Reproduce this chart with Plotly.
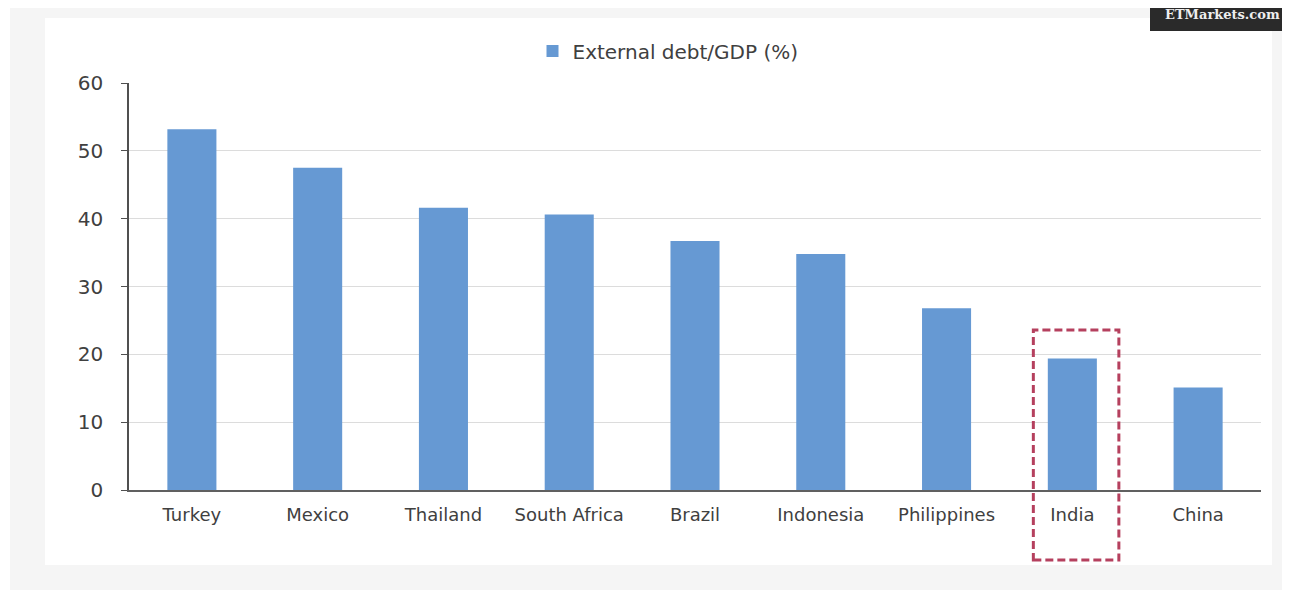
import plotly.graph_objects as go

categories = ["Turkey", "Mexico", "Thailand", "South Africa", "Brazil",
              "Indonesia", "Philippines", "India", "China"]
debt_gdp = [53.2, 47.5, 41.6, 40.6, 36.7, 34.8, 26.8, 19.4, 15.1]
y_ticks = [0, 10, 20, 30, 40, 50, 60]
series_name = "External debt/GDP (%)"

OFF = 8  # page body margin
W, H = 1290 - OFF, 595 - OFF
L, T = 129 - OFF, 83 - OFF
pw, ph = 1132, 407
R = W - L - pw
B = H - T - ph

def px2x(px):
    return (px - OFF - L) / pw

def px2y(py):
    return (T + ph - (py - OFF)) / ph

fig = go.Figure()
fig.add_trace(go.Bar(
    x=categories, y=debt_gdp, name=series_name,
    marker=dict(color="#6699d3", line=dict(width=0)),
    showlegend=True,
))

shapes = [
    dict(type="rect", xref="paper", yref="paper",
         x0=px2x(10), x1=px2x(1300), y0=px2y(590), y1=px2y(-10),
         fillcolor="#f5f5f5", line=dict(width=0), layer="below"),
    dict(type="rect", xref="paper", yref="paper",
         x0=px2x(45), x1=px2x(1272), y0=px2y(565), y1=px2y(18),
         fillcolor="#ffffff", line=dict(width=0), layer="below"),
    dict(type="rect", xref="paper", yref="paper",
         x0=px2x(1150), x1=px2x(1300), y0=px2y(31), y1=px2y(-10),
         fillcolor="#2a2a2a", line=dict(width=0), layer="above"),
    dict(type="rect", xref="x", yref="paper",
         x0=6.69, x1=7.37, y0=px2y(560), y1=px2y(330),
         fillcolor="rgba(0,0,0,0)",
         line=dict(color="#b5405e", width=3, dash="8px,4px"), layer="above"),
]

fig.update_layout(
    width=W, height=H,
    margin=dict(l=L, r=R, t=T, b=B, pad=0),
    paper_bgcolor="#ffffff",
    plot_bgcolor="rgba(0,0,0,0)",
    bargap=0.61,
    font=dict(family="DejaVu Sans, Liberation Sans, Arial, sans-serif", color="#404040"),
    shapes=shapes,
    legend=dict(orientation="h", x=px2x(668), xanchor="center",
                y=px2y(51), yanchor="middle",
                font=dict(size=20, color="#404040"),
                bgcolor="rgba(0,0,0,0)"),
    annotations=[dict(text="<b>ETMarkets.com</b>", xref="paper", yref="paper",
                      x=px2x(1222), y=px2y(15), showarrow=False,
                      font=dict(family="DejaVu Serif, Liberation Serif, serif",
                                size=13, color="#eeeeee"),
                      xanchor="center", yanchor="middle")],
    xaxis=dict(showline=True, linecolor="#606060", linewidth=1.5,
               ticks="", tickfont=dict(size=18, color="#404040"),
               ticklabelstandoff=8,
               showgrid=False, range=[-0.5, 8.5]),
    yaxis=dict(range=[0, 60], tickvals=y_ticks, showline=True,
               linecolor="#505050", linewidth=1.5, ticks="outside",
               ticklen=6, tickcolor="#505050", tickwidth=1,
               ticklabelstandoff=14,
               showgrid=True, gridcolor="#dcdcdc", gridwidth=1,
               tickfont=dict(size=20, color="#404040"), zeroline=False),
)

fig.write_html("out.html")
